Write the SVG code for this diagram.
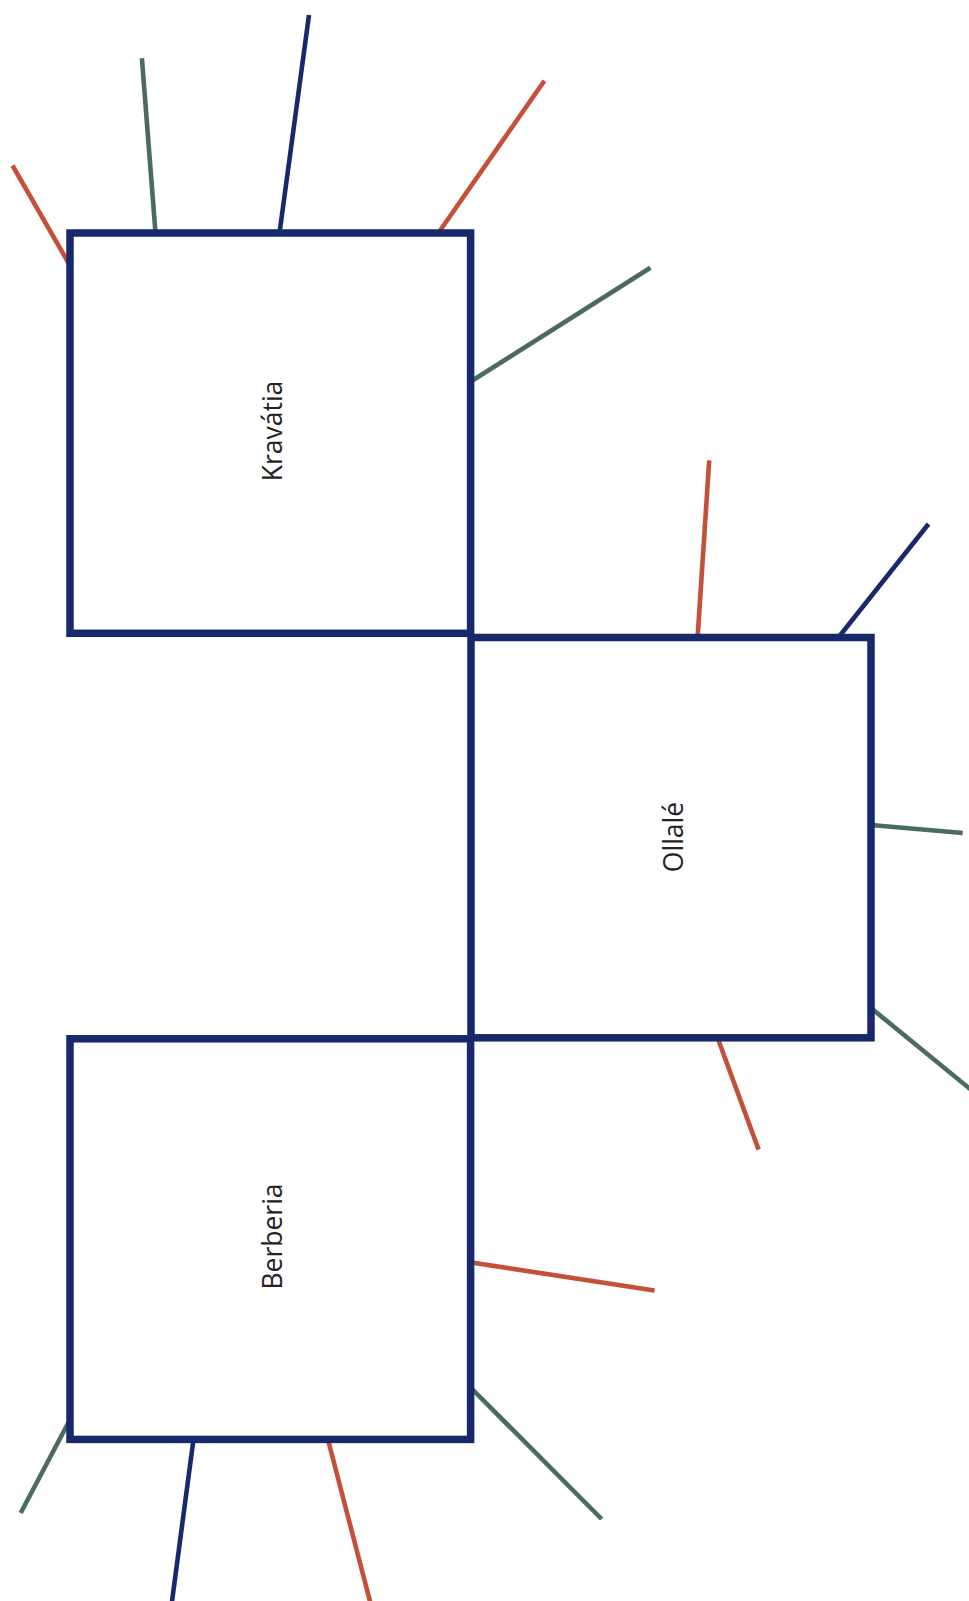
<svg xmlns="http://www.w3.org/2000/svg" width="969" height="1601" viewBox="0 0 969 1601">
<style>
.box{fill:#ffffff;stroke:#17296b;stroke-width:7.5}
.lbl{font-family:"Open Sans","Noto Sans","Liberation Sans",sans-serif;font-size:26.5px;fill:#222222;text-anchor:middle}
.c{fill:none;stroke-width:4.6;stroke-linecap:butt}
.r{stroke:#c5503a}
.g{stroke:#4b6b60}
.n{stroke:#17296b}
</style>
<rect width="969" height="1601" fill="#ffffff"/>
<g id="connectors">
<line class="c r" x1="12.5" y1="165.5" x2="70" y2="265.5"/>
<line class="c g" x1="141.9" y1="58.2" x2="155.5" y2="233"/>
<line class="c n" x1="309" y1="15" x2="279.5" y2="233"/>
<line class="c r" x1="544.4" y1="80.7" x2="438" y2="233.5"/>
<line class="c g" x1="650.4" y1="267.8" x2="470" y2="382"/>
<line class="c r" x1="709.2" y1="460.3" x2="697.6" y2="637.5"/>
<line class="c n" x1="928.5" y1="524" x2="838" y2="638"/>
<line class="c g" x1="962.7" y1="833" x2="871" y2="825"/>
<line class="c g" x1="975" y1="1093" x2="871" y2="1008"/>
<line class="c r" x1="758.6" y1="1149.6" x2="718" y2="1039"/>
<line class="c r" x1="654.5" y1="1290.6" x2="470" y2="1262.2"/>
<line class="c g" x1="601.6" y1="1519" x2="470.5" y2="1387.5"/>
<line class="c g" x1="20.7" y1="1513" x2="69.5" y2="1420.5"/>
<line class="c n" x1="171" y1="1609" x2="193.8" y2="1437"/>
<line class="c r" x1="372" y1="1609" x2="327.3" y2="1437"/>
</g>
<g id="node-kravatia">
<rect class="box" x="70" y="233" width="400.6" height="400.3"/>
<text class="lbl" transform="translate(282,431) rotate(-90)">Kravátia</text>
</g>
<g id="node-ollale">
<rect class="box" x="471" y="637.5" width="400" height="400.3"/>
<text class="lbl" transform="translate(683,837) rotate(-90)">Ollalé</text>
</g>
<g id="node-berberia">
<rect class="box" x="70" y="1038.8" width="400.6" height="400.6"/>
<text class="lbl" transform="translate(282,1236.5) rotate(-90)">Berberia</text>
</g>
</svg>
